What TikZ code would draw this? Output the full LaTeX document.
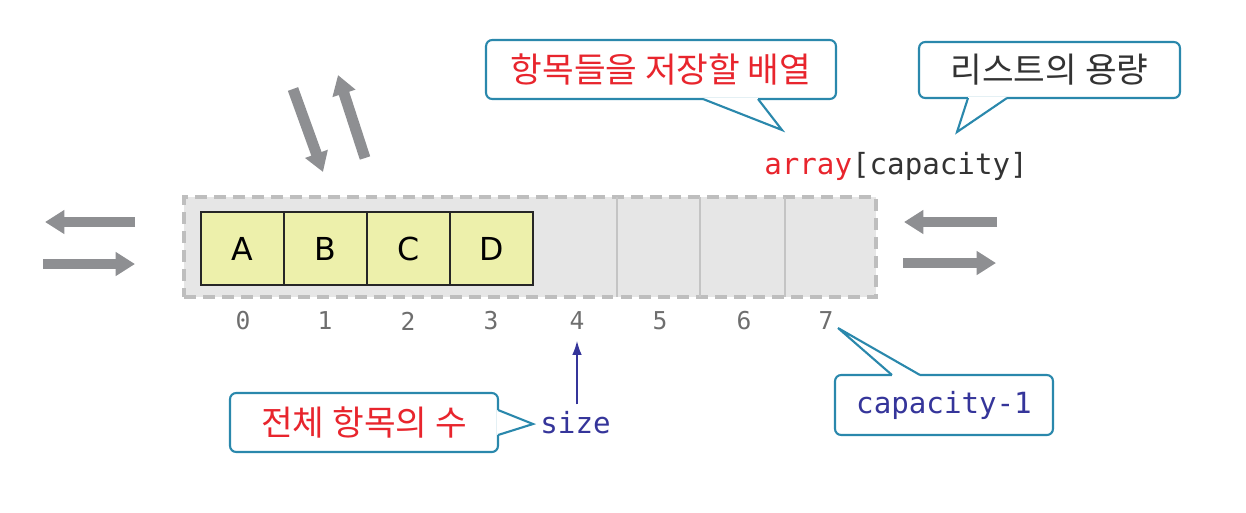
\documentclass[tikz,border=0pt]{standalone}
\usepackage{fontspec}
\setmonofont{DejaVu Sans Mono}
\setsansfont{DejaVu Sans}
\newfontfamily\kr{Noto Sans CJK KR}
\usetikzlibrary{arrows.meta,calc}
\definecolor{cteal}{HTML}{2A88AC}
\definecolor{cred}{HTML}{E8252D}
\definecolor{cblue}{HTML}{35359A}
\definecolor{cgray}{HTML}{8E8F92}
\definecolor{cdash}{HTML}{BEBEBE}
\definecolor{cfill}{HTML}{E6E6E6}
\definecolor{cdiv}{HTML}{C4C4C4}
\definecolor{cyel}{HTML}{EDF0AB}
\definecolor{cidx}{HTML}{6E6E6E}
\definecolor{ctext}{HTML}{333333}
\begin{document}
\begin{tikzpicture}[x=0.02cm,y=-0.02cm,
  callbox/.style={draw=cteal,line width=1.2pt,rounded corners=3.5pt,fill=white,inner sep=0pt},
  ptr/.style={draw=cteal,line width=1.2pt,fill=white,line join=miter},
  patch/.style={fill=white},
  cell/.style={draw=black!85,line width=0.9pt,fill=cyel,minimum width=1.66cm,minimum height=1.46cm,inner sep=0pt,font=\sffamily\fontsize{18}{18}\selectfont},
  idx/.style={text=cidx,font=\ttfamily\fontsize{14}{14}\selectfont,inner sep=0pt},
  bigarrow/.style={draw=cgray,line width=6.2pt,-{Triangle[width=13pt,length=11pt]}},
  mono/.style={font=\ttfamily\fontsize{16.6}{16.6}\selectfont},
  krtext/.style={font=\kr\fontsize{19.6}{19.6}\selectfont}]
\useasboundingbox (0,0) rectangle (1246,512);

% array frame
\node[draw=cdash,fill=cfill,line width=2.3pt,dash pattern=on 6.8pt off 4pt,
      minimum width=13.84cm,minimum height=2cm,inner sep=0pt] (arr) at (530,247) {};
\foreach \x in {617,700,785}
  \draw[cdiv,line width=0.8pt] (\x,197) -- (\x,297);

% cells
\node[cell] (a0) at (242.5,248.5) {A};
\node[cell] (a1) at (325.5,248.5) {B};
\node[cell] (a2) at (408.5,248.5) {C};
\node[cell] (a3) at (491.5,248.5) {D};

% indices
\node[idx] (i0) at (243,321) {0};
\node[idx] (i1) at (325,321) {1};
\node[idx] (i2) at (408,321) {2};
\node[idx] (i3) at (491,321) {3};
\node[idx] (i4) at (577,321) {4};
\node[idx] (i5) at (660,321) {5};
\node[idx] (i6) at (744,321) {6};
\node[idx] (i7) at (826,321) {7};

% array[capacity]
\node[mono,inner sep=0pt] (arrtxt) at (896,166) {\textcolor{cred}{array}\textcolor{ctext}{[capacity]}};

% size
\node[mono,text=cblue,inner sep=0pt] (size) at (575.5,423) {size};
\draw[cblue,line width=0.9pt,-{Latex[length=8pt,width=5.5pt]},shorten <=4pt,shorten >=6pt]
  (i4.south |- size.north) -- (i4.south);

% callout 1
\node[callbox,krtext,text=cred,minimum width=7cm,minimum height=1.18cm] (c1) at (661,69.5) {항목들을 저장할 배열};
\coordinate (p1) at (782,130);
\fill[patch] (703,97.5) rectangle (758,100.5);
\filldraw[ptr] (703,99) -- (p1) -- (758,99);

% callout 2
\node[callbox,krtext,text=ctext,minimum width=5.22cm,minimum height=1.12cm] (c2) at (1049.5,70) {리스트의 용량};
\coordinate (p2) at (957,132);
\fill[patch] (968,96.5) rectangle (1007,99.5);
\filldraw[ptr] (968,98) -- (p2) -- (1007,98);

% callout 3
\node[callbox,krtext,text=cred,minimum width=5.36cm,minimum height=1.18cm] (c3) at (364,422.5) {전체 항목의 수};
\coordinate (p3) at (533,424);
\fill[patch] (496.5,410) rectangle (499.5,435);
\filldraw[ptr] (498,410) -- (p3) -- (498,435);

% callout 4
\node[callbox,mono,text=cblue,minimum width=4.36cm,minimum height=1.2cm] (c4) at (944,405) {capacity-1};
\coordinate (p4) at (838,328);
\fill[patch] (892,373.5) rectangle (920,376.5);
\filldraw[ptr] (892,375) -- (p4) -- (920,375);

% gray arrows
\coordinate (l1s) at (135,222); \coordinate (l1e) at (45,222);
\coordinate (l2s) at (43,264);  \coordinate (l2e) at (135,264);
\coordinate (d1s) at (293,89);  \coordinate (d1e) at (323,172);
\coordinate (d2s) at (365,158); \coordinate (d2e) at (338,75);
\coordinate (r1s) at (997,222); \coordinate (r1e) at (904,222);
\coordinate (r2s) at (903,263); \coordinate (r2e) at (996,263);
\draw[bigarrow] (l1s) -- (l1e);
\draw[bigarrow] (l2s) -- (l2e);
\draw[bigarrow] (d1s) -- (d1e);
\draw[bigarrow] (d2s) -- (d2e);
\draw[bigarrow] (r1s) -- (r1e);
\draw[bigarrow] (r2s) -- (r2e);
\end{tikzpicture}
\end{document}
